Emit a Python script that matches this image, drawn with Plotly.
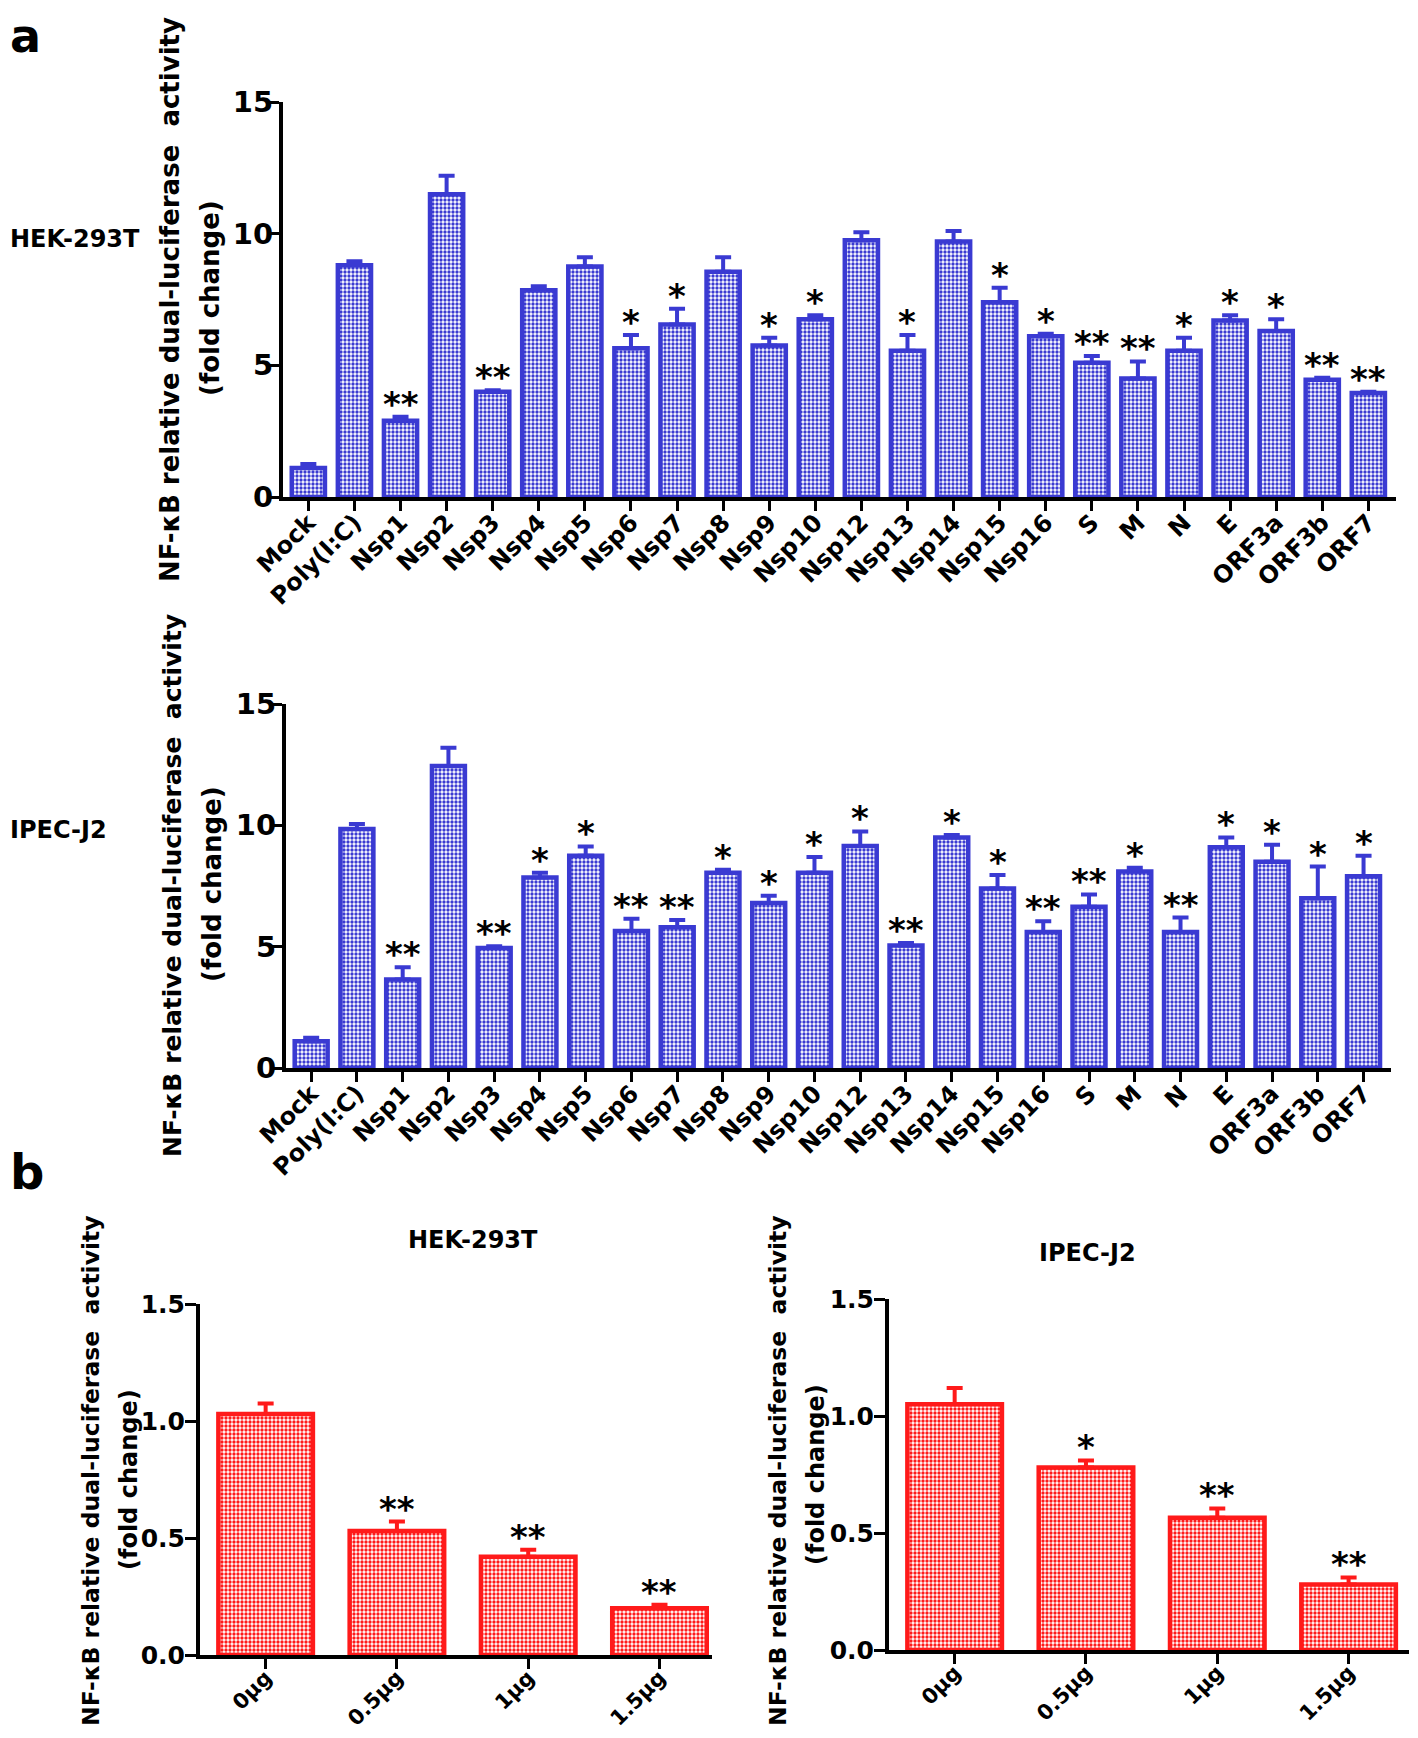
import plotly.graph_objects as go

# page is 1418x1738; the html body adds an 8px margin, so the figure is a bit smaller
PAGE_W, PAGE_H = 1418, 1738
OFF = 8
W, H = PAGE_W - 2 * OFF, PAGE_H - 2 * OFF

# ---- data ----
genes = ["Mock", "Poly(I:C)", "Nsp1", "Nsp2", "Nsp3", "Nsp4", "Nsp5", "Nsp6", "Nsp7",
         "Nsp8", "Nsp9", "Nsp10", "Nsp12", "Nsp13", "Nsp14", "Nsp15", "Nsp16",
         "S", "M", "N", "E", "ORF3a", "ORF3b", "ORF7"]

hek_vals = [1.1, 8.8, 2.9, 11.5, 4.0, 7.85, 8.75, 5.65, 6.55,
            8.55, 5.75, 6.75, 9.75, 5.55, 9.7, 7.4, 6.1,
            5.1, 4.5, 5.55, 6.7, 6.3, 4.45, 3.95]
hek_err = [0.15, 0.15, 0.15, 0.7, 0.05, 0.15, 0.35, 0.5, 0.6,
           0.55, 0.3, 0.15, 0.3, 0.6, 0.4, 0.55, 0.1,
           0.25, 0.65, 0.5, 0.2, 0.45, 0.08, 0.05]
hek_sig = ["", "", "**", "", "**", "", "", "*", "*",
           "", "*", "*", "", "*", "", "*", "*",
           "**", "**", "*", "*", "*", "**", "**"]

ipec_vals = [1.1, 9.85, 3.65, 12.45, 4.95, 7.85, 8.75, 5.65, 5.8,
             8.05, 6.8, 8.05, 9.15, 5.05, 9.5, 7.4, 5.6,
             6.65, 8.1, 5.6, 9.1, 8.5, 7.0, 7.9]
ipec_err = [0.15, 0.2, 0.5, 0.75, 0.07, 0.2, 0.38, 0.5, 0.3,
            0.12, 0.3, 0.65, 0.6, 0.1, 0.1, 0.55, 0.45,
            0.5, 0.15, 0.6, 0.4, 0.7, 1.3, 0.85]
ipec_sig = ["", "", "**", "", "**", "*", "*", "**", "**",
            "*", "*", "*", "*", "**", "*", "*", "**",
            "**", "*", "**", "*", "*", "*", "*"]

doses = ["0µg", "0.5µg", "1µg", "1.5µg"]
hek_dose_vals = [1.03, 0.53, 0.42, 0.2]
hek_dose_err = [0.045, 0.04, 0.03, 0.015]
hek_dose_sig = ["", "**", "**", "**"]
ipec_dose_vals = [1.05, 0.78, 0.565, 0.28]
ipec_dose_err = [0.07, 0.03, 0.04, 0.03]
ipec_dose_sig = ["", "*", "**", "**"]

BLUE = "#3a3ad2"
RED = "#ff1a1a"
FONT = "DejaVu Sans"
YTITLE1 = "NF-κB relative dual-luciferase\u00a0\u00a0activity"
YTITLE2 = "(fold change)"


def px(x):
    # page pixel -> paper fraction
    return (x - OFF) / W


def py(y):
    return 1 - (y - OFF) / H


fig = go.Figure()


def add_panel(n, cats, vals, errs, sig, color):
    xa = "x" if n == 1 else f"x{n}"
    ya = "y" if n == 1 else f"y{n}"
    fig.add_trace(go.Bar(
        x=cats, y=vals, xaxis=xa, yaxis=ya, width=0.72,
        marker=dict(color="white",
                    line=dict(color=color, width=4.5),
                    pattern=dict(shape=".", fgcolor=color, bgcolor="white",
                                 fgopacity=1, size=4, solidity=0.55,
                                 fillmode="overlay")),
        error_y=dict(type="data", array=errs, arrayminus=[0] * len(errs),
                     symmetric=False, color=color, thickness=4, width=8),
        showlegend=False, hoverinfo="skip",
    ))
    # significance stars sit just above each error bar
    for c, v, e, s in zip(cats, vals, errs, sig):
        if not s:
            continue
        fig.add_annotation(x=c, y=v + e, xref=xa, yref=ya, text=s,
                           showarrow=False, yanchor="bottom", yshift=-9,
                           font=dict(family=FONT, size=34, color="black",
                                     weight="bold"))


add_panel(1, genes, hek_vals, hek_err, hek_sig, BLUE)
add_panel(2, genes, ipec_vals, ipec_err, ipec_sig, BLUE)
add_panel(3, doses, hek_dose_vals, hek_dose_err, hek_dose_sig, RED)
add_panel(4, doses, ipec_dose_vals, ipec_dose_err, ipec_dose_sig, RED)


def xax(domain, anchor, rng, size):
    return dict(domain=domain, anchor=anchor, range=rng, type="category",
                showline=True, linewidth=4, linecolor="black", ticks="outside",
                ticklen=10, tickwidth=3, tickcolor="black", tickangle=-45,
                showgrid=False, zeroline=False, fixedrange=True, automargin=False,
                ticklabelstandoff=-12,
                tickfont=dict(family=FONT, size=size, color="black", weight="bold"))


def yax(domain, anchor, rng, tickvals, ticktext, size, standoff):
    return dict(domain=domain, anchor=anchor, range=rng, tickvals=tickvals,
                ticktext=ticktext, showline=True, linewidth=4, linecolor="black",
                ticks="outside", ticklen=11, tickwidth=3, tickcolor="black",
                showgrid=False, zeroline=False, fixedrange=True, automargin=False,
                ticklabelstandoff=standoff,
                tickfont=dict(family=FONT, size=size, color="black", weight="bold"))


fig.update_layout(
    width=W, height=H, margin=dict(l=0, r=0, t=0, b=0),
    paper_bgcolor="white", plot_bgcolor="white",
    xaxis=xax([px(283), px(1396)], "y", [-0.55, 23.6], 24),
    yaxis=yax([py(497), py(102)], "x", [0, 15], [0, 5, 10, 15],
              ["0", "5", "10", "15"], 29, -11),
    xaxis2=xax([px(286), px(1391)], "y2", [-0.55, 23.6], 24),
    yaxis2=yax([py(1068), py(704)], "x2", [0, 15], [0, 5, 10, 15],
               ["0", "5", "10", "15"], 29, -11),
    xaxis3=xax([px(200), px(712)], "y3", [-0.5, 3.4], 21),
    yaxis3=yax([py(1655), py(1304)], "x3", [0, 1.5], [0, 0.5, 1.0, 1.5],
               ["0.0", "0.5", "1.0", "1.5"], 25, -5),
    xaxis4=xax([px(889), px(1409)], "y4", [-0.5, 3.46], 21),
    yaxis4=yax([py(1650), py(1299)], "x4", [0, 1.5], [0, 0.5, 1.0, 1.5],
               ["0.0", "0.5", "1.0", "1.5"], 25, -5),
)


def note(text, x, y, size, angle=0, xanchor="center"):
    fig.add_annotation(text=text, x=px(x), y=py(y), xref="paper", yref="paper",
                       showarrow=False, textangle=angle, xanchor=xanchor,
                       yanchor="middle",
                       font=dict(family=FONT, size=size, color="black", weight="bold"))


# panel letters and cell-line labels
note("a", 8, 36, 46, xanchor="left")
note("b", 8, 1172, 48, xanchor="left")
note("HEK-293T", 8, 239, 24, xanchor="left")
note("IPEC-J2", 8, 830, 24, xanchor="left")
note("HEK-293T", 473, 1240, 24)
note("IPEC-J2", 1087, 1253, 24)

# y-axis titles (two lines each)
note(YTITLE1, 170, 300, 26, angle=-90)
note(YTITLE2, 210, 298, 26, angle=-90)
note(YTITLE1, 172, 886, 25, angle=-90)
note(YTITLE2, 212, 884, 26, angle=-90)
note(YTITLE1, 91, 1471, 23.5, angle=-90)
note(YTITLE2, 129, 1480, 24, angle=-90)
note(YTITLE1, 778, 1471, 23.5, angle=-90)
note(YTITLE2, 816, 1475, 24, angle=-90)

fig.write_html("out.html")
